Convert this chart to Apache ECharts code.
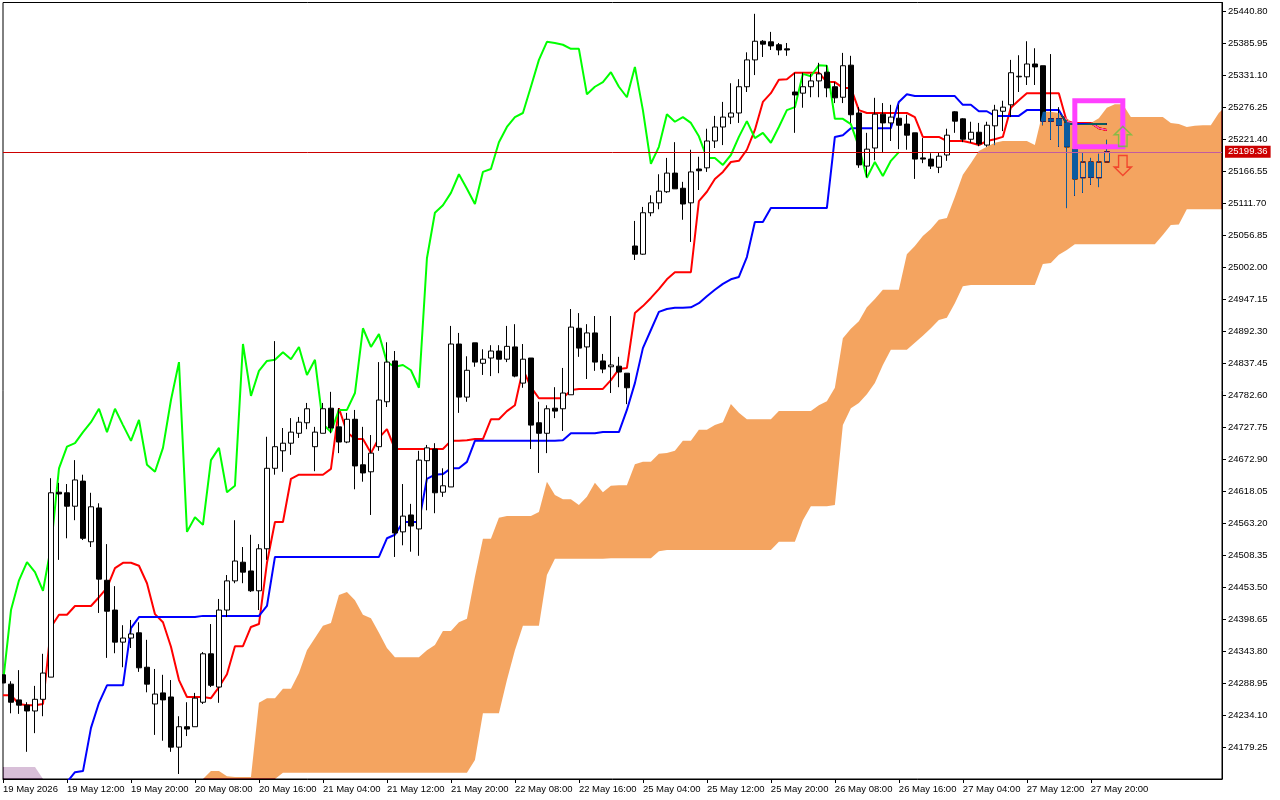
<!DOCTYPE html>
<html>
<head>
<meta charset="utf-8">
<title>Ichimoku</title>
<script src="https://cdn.jsdelivr.net/npm/echarts@6/dist/echarts.min.js"></script>
<style>
    html, body { margin: 0; padding: 0; background: #fff; }
    #chart { width: 1280px; height: 800px; }
</style>
</head>
<body>
<div id="chart"></div>
<script>
"use strict"

// time labels, one every 8 bars
let timeLabels = ["19 May 2026", "19 May 12:00", "19 May 20:00", "20 May 08:00", "20 May 16:00", "21 May 04:00",
    "21 May 12:00", "21 May 20:00", "22 May 08:00", "22 May 16:00", "25 May 04:00", "25 May 12:00",
    "25 May 20:00", "26 May 08:00", "26 May 16:00", "27 May 04:00", "27 May 12:00", "27 May 20:00"];
let priceTicks = [24179.25, 24234.10, 24288.95, 24343.80, 24398.65, 24453.50, 24508.35, 24563.20, 24618.05, 24672.90,
    24727.75, 24782.60, 24837.45, 24892.30, 24947.15, 25002.00, 25056.85, 25111.70, 25166.55, 25221.40,
    25276.25, 25331.10, 25385.95, 25440.80];
let lastPrice = 25199.36;

// H1 candles
let opens = [24303,24287,24260,24251,24241,24261,24299,24616,24615,24592,
    24635,24531,24589,24465,24414,24359,24366,24375,24316,24253,
    24272,24265,24179,24214,24214,24256,24339,24282,24414,24464,
    24496,24481,24447,24519,24657,24687,24700,24717,24735,24694,
    24717,24760,24728,24702,24741,24663,24651,24694,24771,24841,
    24548,24577,24553,24670,24690,24616,24625,24870,24779,24872,
    24837,24846,24858,24844,24865,24803,24846,24735,24717,24760,
    24759,24783,24897,24865,24889,24841,24831,24832,24820,25038,
    25024,25095,25112,25131,25163,25137,25112,25170,25172,25218,
    25242,25259,25266,25311,25357,25389,25388,25383,25376,25302,
    25300,25311,25321,25336,25311,25293,25348,25266,25175,25206,
    25264,25249,25257,25247,25232,25189,25187,25173,25194,25268,
    25256,25221,25233,25211,25244,25269,25280,25328,25328,25350,
    25347,25256,25256,25249,25204,25155,25182,25155,25182];
let closes = [24289,24256,24251,24241,24261,24306,24615,24613,24592,24637,
    24537,24591,24467,24412,24359,24366,24373,24315,24287,24270,
    24260,24179,24214,24210,24263,24339,24285,24414,24464,24498,
    24479,24447,24519,24657,24694,24700,24719,24736,24759,24719,
    24759,24726,24702,24741,24661,24649,24683,24774,24839,24546,
    24575,24558,24671,24692,24615,24627,24870,24779,24825,24839,
    24844,24858,24844,24866,24815,24844,24731,24717,24759,24755,
    24786,24899,24863,24889,24839,24827,24834,24822,24795,25024,
    25095,25112,25132,25163,25136,25110,25165,25167,25218,25242,
    25259,25266,25311,25357,25389,25384,25381,25374,25374,25297,
    25311,25321,25333,25309,25292,25347,25263,25177,25204,25264,
    25249,25259,25245,25228,25187,25187,25175,25192,25228,25252,
    25221,25233,25213,25245,25271,25276,25335,25329,25350,25345,
    25252,25252,25245,25208,25153,25182,25156,25182,25199.36];
let lows = [24289,24237,24236,24171,24203,24232,24299,24500,24537,24568,
    24534,24522,24409,24332,24340,24316,24349,24308,24273,24200,
    24190,24171,24133,24198,24214,24253,24282,24255,24402,24460,
    24460,24445,24414,24500,24646,24651,24680,24709,24724,24652,
    24717,24717,24683,24700,24621,24634,24577,24687,24762,24505,
    24525,24514,24507,24585,24580,24608,24625,24752,24771,24831,
    24817,24815,24820,24839,24813,24795,24690,24649,24683,24743,
    24721,24783,24848,24810,24824,24820,24786,24796,24767,25014,
    25023,25089,25101,25129,25136,25083,25045,25134,25165,25206,
    25211,25247,25249,25302,25331,25362,25374,25365,25364,25232,
    25275,25293,25293,25293,25283,25283,25249,25172,25156,25185,
    25199,25218,25204,25203,25153,25180,25170,25163,25184,25232,
    25216,25215,25209,25208,25211,25235,25259,25302,25314,25314,
    25245,25220,25208,25103,25124,25129,25143,25139,25182];
let highs = [24303,24292,24311,24256,24284,24339,24640,24632,24630,24671,
    24646,24615,24597,24527,24455,24388,24397,24393,24363,24313,
    24303,24294,24232,24256,24272,24342,24390,24433,24474,24568,
    24522,24543,24527,24711,24875,24726,24743,24745,24769,24728,
    24769,24788,24760,24752,24757,24728,24714,24839,24873,24858,
    24630,24596,24687,24697,24700,24657,24901,24889,24849,24872,
    24861,24868,24868,24901,24904,24870,24846,24771,24765,24796,
    24829,24930,24923,24904,24918,24853,24918,24848,24820,25081,
    25105,25125,25161,25189,25216,25148,25203,25191,25239,25261,
    25285,25317,25324,25370,25436,25391,25405,25386,25386,25335,
    25335,25333,25352,25348,25319,25369,25364,25276,25232,25292,
    25283,25280,25280,25263,25232,25223,25197,25199,25239,25269,
    25257,25251,25249,25251,25280,25287,25357,25365,25389,25377,
    25347,25367,25276,25254,25208,25199,25189,25196,25220];

// ichimoku lines
let tenkan = [24268,24268,24253,24251,24251,24253,24385,24406,24406,24421,
    24421,24421,24436,24452,24486,24495,24495,24490,24460,24407,
    24393,24351,24294,24265,24265,24265,24263,24282,24304,24352,
    24352,24385,24390,24495,24565,24565,24639,24646,24646,24646,
    24646,24656,24760,24719,24707,24707,24683,24709,24724,24690,
    24690,24690,24690,24690,24690,24690,24704,24704,24705,24707,
    24707,24741,24741,24755,24765,24827,24796,24777,24777,24777,
    24777,24791,24793,24793,24793,24793,24808,24827,24829,24923,
    24935,24949,24964,24981,24993,24993,24993,25115,25131,25153,
    25165,25182,25184,25203,25237,25285,25300,25323,25324,25335,
    25335,25335,25335,25319,25319,25309,25309,25271,25266,25266,
    25266,25266,25266,25266,25259,25225,25225,25225,25218,25218,
    25218,25215,25211,25218,25221,25225,25275,25288,25300,25300,
    25300,25300,25300,25251,25249,25249,25249,25240,25237];
// kijun comes into view at bar 8
let kijunStart = 8;
let kijun = [24119,24136,
    24138,24212,24255,24285,24285,24285,24383,24402,24402,24402,
    24402,24402,24402,24402,24402,24404,24404,24404,24404,24404,
    24404,24404,24404,24421,24505,24505,24505,24505,24505,24505,
    24505,24505,24505,24505,24505,24505,24505,24505,24537,24543,
    24565,24565,24565,24639,24646,24647,24657,24657,24668,24704,
    24704,24704,24704,24704,24704,24704,24704,24704,24704,24704,
    24705,24717,24717,24717,24717,24719,24719,24719,24757,24803,
    24863,24894,24925,24930,24932,24932,24933,24940,24952,24963,
    24973,24981,24985,25019,25079,25079,25103,25103,25103,25103,
    25103,25103,25103,25103,25225,25228,25240,25240,25240,25240,
    25240,25240,25285,25298,25295,25295,25295,25295,25295,25295,
    25280,25280,25269,25269,25261,25261,25261,25261,25271,25271,
    25271,25271,25271,25247,25247,25247,25247,25247,25247];
let chikou = [24289,24414,24465,24496,24479,24447,24522,24657,24694,24700,
    24719,24736,24759,24719,24759,24731,24704,24740,24663,24651,
    24692,24774,24839,24548,24573,24560,24671,24692,24616,24627,
    24870,24781,24824,24841,24843,24856,24844,24865,24817,24843,
    24733,24719,24757,24757,24786,24897,24865,24887,24839,24831,
    24834,24825,24795,25017,25095,25108,25129,25161,25136,25110,
    25165,25170,25216,25242,25259,25266,25311,25357,25388,25386,
    25383,25376,25376,25298,25311,25319,25336,25311,25293,25345,
    25271,25179,25208,25264,25251,25259,25249,25226,25189,25189,
    25177,25194,25225,25252,25223,25232,25215,25242,25271,25276,
    25333,25329,25348,25347,25256,25256,25247,25208,25155,25182,
    25158,25184,25199];

// cloud: upper and lower edge, the orange part starts at bar 25
let cloudStart = 25;
let cloudTop = [24124,24138,24138,24129,24128,
    24128,24128,24255,24263,24263,24279,24279,24306,24345,24366,
    24387,24392,24440,24445,24431,24406,24400,24375,24349,24333,
    24333,24333,24333,24345,24354,24378,24378,24393,24399,24471,
    24536,24536,24572,24575,24575,24575,24575,24582,24634,24611,
    24604,24604,24594,24608,24632,24616,24627,24628,24628,24664,
    24668,24668,24682,24683,24687,24704,24704,24723,24723,24731,
    24736,24767,24752,24741,24741,24741,24741,24755,24755,24755,
    24755,24755,24765,24772,24795,24880,24896,24909,24933,24947,
    24963,24963,24963,25024,25038,25055,25067,25083,25086,25122,
    25160,25180,25201,25208,25215,25218,25218,25218,25218,25211,
    25268,25268,25266,25257,25247,25247,25249,25257,25275,25281,
    25281,25259,25259,25259,25259,25259,25249,25247,25242,25244,
    25245,25245,25266,25271];
let cloudBottom = [24106,24106,24106,24106,24106,
    24106,24106,24106,24106,24114,24135,24135,24135,24135,24135,
    24135,24135,24135,24135,24135,24135,24135,24135,24135,24135,
    24135,24135,24135,24135,24135,24135,24135,24135,24135,24157,
    24237,24237,24237,24294,24345,24387,24387,24387,24474,24502,
    24502,24502,24502,24502,24502,24502,24503,24503,24503,24503,
    24503,24503,24515,24517,24517,24517,24517,24517,24517,24517,
    24517,24517,24517,24517,24517,24517,24517,24531,24531,24531,
    24568,24592,24592,24592,24594,24731,24760,24769,24784,24803,
    24834,24860,24860,24860,24872,24884,24897,24911,24915,24940,
    24969,24971,24971,24971,24971,24971,24971,24971,24971,24971,
    25007,25009,25023,25031,25041,25041,25041,25041,25041,25041,
    25041,25041,25041,25041,25041,25057,25074,25075,25101,25101,
    25101,25101,25101,25101];
// the older thistle part at the left edge
let pastCloudTop = [24145,24145,24145,24145,24145,24104];
let pastCloudBottom = [24088,24088,24088,24088,24088,24088];

// marked zone and the two arrows
let boxBars = [134, 140];
let boxPrices = [25208, 25287];
let arrowBar = 140;
let arrowUpPrice = 25226;
let arrowDownPrice = 25176;

// difference blend: the cloud inverts what lies under it, like the terminal does
let cloudColor = "#0B5B9F";
let pastCloudColor = "#274027";
let arrowPath = "path://M8,0 L16,8 L12,8 L12,19 L4,19 L4,8 L0,8 Z";
let labelFont = "Liberation Sans";
let labelSize = 9.5;

function withBars(values, start) {
    return values.map(function (v, i) {
        return [start + i, v];
    });
}

function lineSeries(name, values, start, color) {
    return {
        name: name,
        type: "line",
        data: withBars(values, start),
        showSymbol: false,
        silent: true,
        z: 2,
        lineStyle: { color: color, width: 2 }
    };
}

// one polygon for the whole band, a polygon per bar would show seams under the blend
function bandSeries(name, top, bottom, start, color) {
    return {
        name: name,
        type: "custom",
        silent: true,
        z: 6,
        blendMode: "difference",
        data: top.map(function (v, i) {
            return [start + i, v, bottom[i]];
        }),
        encode: { x: 0, y: [1, 2] },
        renderItem: function (params, api) {
            if (params.dataIndex !== 0) {
                return null;
            }
            let upper = top.map(function (v, i) {
                return api.coord([start + i, v]);
            });
            let lower = bottom.map(function (v, i) {
                return api.coord([start + i, v]);
            }).reverse();
            let rect = params.coordSys;
            return {
                type: "polygon",
                shape: {
                    points: echarts.graphic.clipPointsByRect(upper.concat(lower), {
                        x: rect.x, y: rect.y, width: rect.width, height: rect.height
                    })
                },
                style: { fill: color, blend: "difference" }
            };
        }
    };
}

let candles = opens.map(function (o, i) {
    return [i, o, closes[i], lows[i], highs[i]];
});

let myChart = echarts.init(document.getElementById("chart"));
let option = {
    animation: false,
    backgroundColor: "#fff",
    // candlesticks are not cut at the grid edge, hide the half bar left of the frame
    graphic: [{
        type: "rect",
        silent: true,
        z: 20,
        shape: { x: 0, y: 0, width: 2, height: 800 },
        style: { fill: "#fff" }
    }],
    grid: {
        show: true,
        left: 2.5,
        top: 2.5,
        width: 1219.5,
        height: 776.5,
        borderColor: "#000",
        borderWidth: 1,
        backgroundColor: "transparent"
    },
    xAxis: {
        type: "value",
        min: 0,
        max: 152.4,
        splitLine: { show: false },
        axisLine: { show: true, onZero: false, lineStyle: { color: "#000" } },
        axisTick: {
            show: true,
            length: 4,
            lineStyle: { color: "#000" },
            customValues: timeLabels.map(function (t, k) { return k * 8; })
        },
        axisLabel: {
            color: "#000",
            fontFamily: labelFont,
            fontSize: labelSize,
            align: "left",
            margin: 5,
            customValues: timeLabels.map(function (t, k) { return k * 8; }),
            formatter: function (v) {
                return timeLabels[v / 8];
            }
        }
    },
    yAxis: {
        type: "value",
        position: "right",
        min: 24124.4,
        max: 25455.4,
        splitLine: { show: false },
        axisLine: { show: true, onZero: false, lineStyle: { color: "#000" } },
        axisTick: {
            show: true,
            length: 4,
            lineStyle: { color: "#000" },
            customValues: priceTicks
        },
        axisLabel: {
            color: "#000",
            fontFamily: labelFont,
            fontSize: labelSize,
            margin: 6,
            padding: [2, 0, 0, 0],
            customValues: priceTicks,
            formatter: function (v) {
                return v.toFixed(2);
            }
        }
    },
    series: [{
        name: "Price",
        type: "candlestick",
        data: candles,
        barWidth: 5,
        silent: true,
        z: 2,
        itemStyle: {
            color: "#fff",
            color0: "#000",
            borderColor: "#000",
            borderColor0: "#000",
            borderWidth: 1
        },
        markLine: {
            silent: true,
            symbol: "none",
            animation: false,
            z: 3,
            lineStyle: { color: "#cc0000", width: 1, type: "solid" },
            label: {
                position: "end",
                distance: 3,
                color: "#fff",
                backgroundColor: "#cc0000",
                fontFamily: labelFont,
                fontSize: labelSize,
                padding: [1, 3, 1, 3],
                formatter: function () {
                    return lastPrice.toFixed(2);
                }
            },
            data: [{ yAxis: lastPrice }]
        }
    },
    lineSeries("Tenkan", tenkan, 0, "#ff0000"),
    lineSeries("Kijun", kijun, kijunStart, "#0000ff"),
    lineSeries("Chikou", chikou, 0, "#00ff00"),
    bandSeries("Cloud", cloudTop, cloudBottom, cloudStart, cloudColor),
    bandSeries("Past cloud", pastCloudTop, pastCloudBottom, 0, pastCloudColor),
    {
        name: "Arrows",
        type: "scatter",
        silent: true,
        z: 8,
        symbol: arrowPath,
        symbolSize: [17, 20],
        itemStyle: { color: "transparent", borderColor: "#6cc040", borderWidth: 1.5 },
        data: [{ value: [arrowBar, arrowUpPrice] }, {
            value: [arrowBar, arrowDownPrice],
            symbolRotate: 180,
            itemStyle: { color: "transparent", borderColor: "#f03020", borderWidth: 1.5 }
        }],
        markArea: {
            silent: true,
            animation: false,
            z: 7,
            itemStyle: { color: "transparent", borderColor: "#ff40ff", borderWidth: 5 },
            data: [[{ xAxis: boxBars[0], yAxis: boxPrices[1] }, { xAxis: boxBars[1], yAxis: boxPrices[0] }]]
        }
    }]
};
myChart.setOption(option);
</script>
</body>
</html>
